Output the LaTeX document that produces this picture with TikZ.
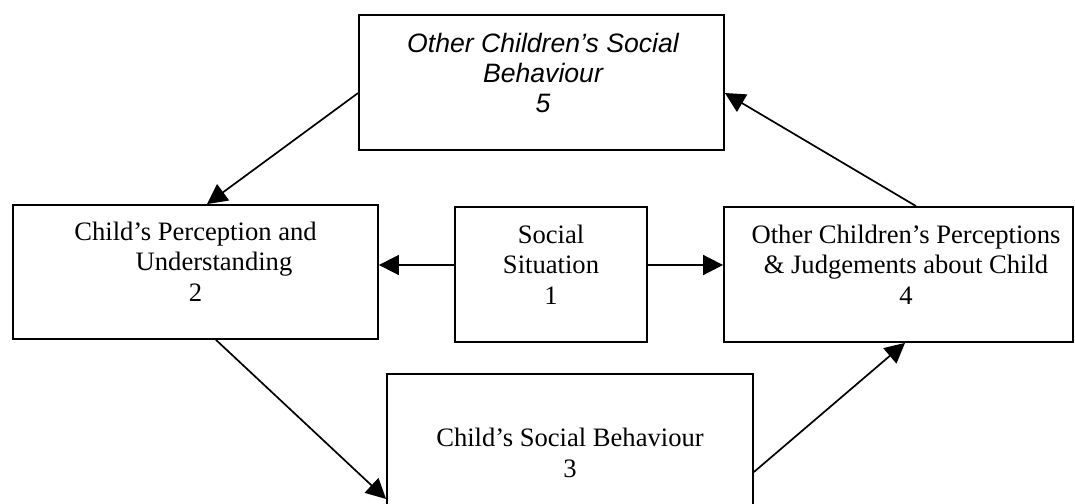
\documentclass[tikz,border=0pt]{standalone}
\usepackage{fontspec}
\setmainfont{Liberation Serif}
\newfontfamily\arialfont{Liberation Sans}
\usetikzlibrary{calc,arrows.meta}
\tikzset{
  box/.style={draw=black, line width=0.9pt, rectangle, inner sep=0pt},
  txt/.style={align=center, anchor=base, inner sep=0pt,
    font=\fontsize{13.3pt}{15.25pt}\selectfont},
  itxt/.style={txt, font=\fontsize{13.3pt}{15pt}\selectfont\arialfont\itshape},
  arr/.style={line width=0.85pt, -{Triangle[length=10pt,width=10pt]}}
}
\begin{document}
\begin{tikzpicture}[x=0.5pt, y=-0.5pt]
\useasboundingbox (0,0) rectangle (1075,503);
% boxes
\node[box, minimum width=182.5pt, minimum height=67.5pt] (b5) at (541.5,82.5) {};
\node[box, minimum width=182.5pt, minimum height=67pt] (b2) at (195.5,272) {};
\node[box, minimum width=96pt, minimum height=67.5pt] (b1) at (551,274.5) {};
\node[box, minimum width=174.5pt, minimum height=67.5pt] (b4) at (898.5,274.5) {};
\node[box, minimum width=183pt, minimum height=75pt] (b3) at (570,449) {};
% texts (base = last line)
\node[itxt] (t5) at (543,112) {Other Children’s Social\\Behaviour\\5};
\node[txt] (t2) at (195.5,301) {Child’s Perception and\\\hspace*{18.5pt}Understanding\\2};
\node[txt] (t1) at (551,304) {Social\\Situation\\1};
\node[txt] (t4) at (906,304) {Other Children’s Perceptions\\\& Judgements about Child\\4};
\node[txt] (t3) at (570,477) {Child’s Social Behaviour\\3};
% connectors
\coordinate (a1) at ($(b5.west)+(0,10.5)$);
\coordinate (a2) at ($(b2.north)+(11.5,0)$);
\draw[arr] (a1) -- (a2);
\coordinate (f1) at ($(b4.north)+(17.5,0)$);
\coordinate (f2) at ($(b5.east)+(0,10.5)$);
\draw[arr] (f1) -- (f2);
\coordinate (c1) at ($(b1.west)+(0,-9.5)$);
\draw[arr] (c1) -- (c1 -| b2.east);
\coordinate (d1) at ($(b1.east)+(0,-9.5)$);
\draw[arr] (d1) -- (d1 -| b4.west);
\coordinate (e1) at ($(b2.south)+(20.5,0)$);
\coordinate (e2) at ($(b3.west)+(0,50)$);
\draw[arr] (e1) -- (e2);
\coordinate (g1) at ($(b3.east)+(0,23)$);
\coordinate (g2) at ($(b4.south)+(6.5,0)$);
\draw[arr] (g1) -- (g2);
\end{tikzpicture}
\end{document}
